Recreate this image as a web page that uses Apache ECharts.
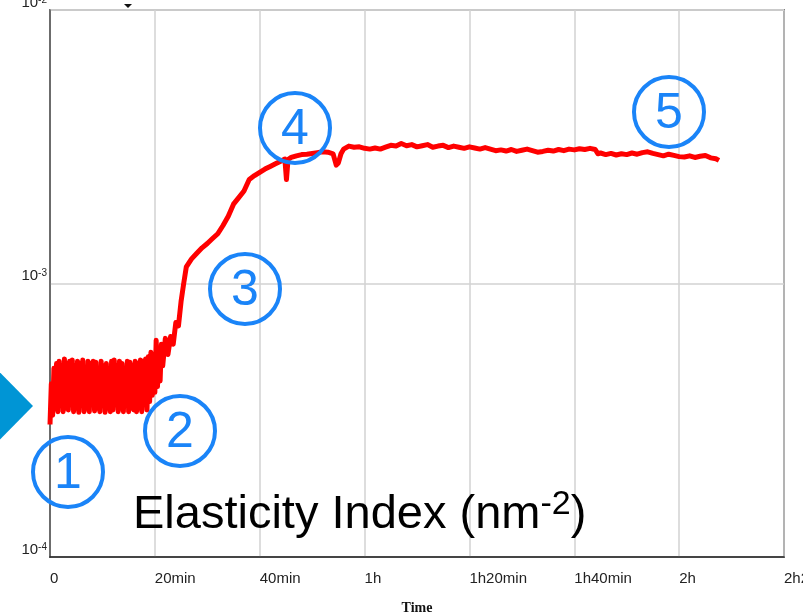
<!DOCTYPE html>
<html>
<head>
<meta charset="utf-8">
<script src="https://cdn.jsdelivr.net/npm/echarts@6/dist/echarts.min.js"></script>
<style>html,body{margin:0;padding:0;background:#fff}#c{width:803px;height:614px}</style>
</head>
<body>
<div id="c"></div>
<script>
// Time in minutes
const timeMin = [
  0,0.25,0.5,0.75,1,1.25,1.5,1.75,2,2.25,2.5,2.75,3,3.25,3.5,3.75,4,4.25,4.5,4.75,
  5,5.25,5.5,5.75,6,6.25,6.5,6.75,7,7.25,7.5,7.75,8,8.25,8.5,8.75,9,9.25,9.5,9.75,
  10,10.25,10.5,10.75,11,11.25,11.5,11.75,12,12.25,12.5,12.75,13,13.25,13.5,13.75,14,14.25,14.5,14.75,
  15,15.25,15.5,15.75,16,16.25,16.5,16.75,17,17.25,17.5,17.75,18,18.25,18.5,18.75,19,19.25,19.5,19.75,
  20,20.25,20.5,20.75,21,21.25,
  21.5,22,22.5,23,23.5,24,24.5,25,25.5,26,26.5,27,28,29,30,31,32,33,34,35,36,37,38,39,40,41,42,43,44,44.8,45.1,45.4,
  46,47,48,49,50,51,52,53,54,54.6,55,55.5,56,
  57,58,59,60,61,62,63,64,65,66,67,68,69,70,71,72,73,74,75,76,77,78,79,80,81,82,83,84,85,86,87,88,89,90,
  91,92,93,94,95,96,97,98,99,100,101,102,103,104,104.5,105,106,107,108,109,110,111,112,113,114,115,116,117,118,119,120,
  121,122,123,124,125,126,127,127.6
];
// Elasticity index, in units of 1e-4 nm^-2
const elasticityE4 = [
  3.05,4.3,3.3,4.9,3.5,5.1,3.4,5.2,3.6,5.0,3.4,5.3,3.5,5.1,3.45,5.2,3.6,5.25,3.4,5.0,
  3.5,5.2,3.38,5.1,3.7,5.25,3.4,4.9,3.5,5.2,3.4,5.1,3.9,5.2,3.42,5.15,3.5,4.7,3.4,5.2,
  3.6,5.0,3.38,5.1,3.5,4.8,3.4,5.2,3.45,5.25,3.6,5.0,3.4,5.2,3.5,5.1,3.4,4.9,3.6,5.2,
  3.4,5.15,3.5,5.0,3.45,5.2,3.4,5.1,3.5,5.25,3.4,5.2,3.6,5.3,3.45,5.4,3.7,5.6,3.9,5.5,
  4.0,6.2,4.2,5.8,4.4,6.0,
  5.0,6.3,5.5,6.4,6.0,7.2,7.0,8.6,10.0,11.5,11.9,12.3,12.9,13.5,14.0,14.6,15.2,16.3,17.6,19.5,20.6,21.8,24.0,24.8,25.5,26.2,26.8,27.4,28.0,28.5,24.0,28.4,
  28.9,29.3,29.6,29.7,29.9,30.1,30.3,30.2,29.8,27.1,27.6,29.8,31.0,
  31.8,31.5,31.6,31.2,31.0,31.3,31.0,31.5,32.0,31.8,32.5,31.9,32.2,31.6,31.9,32.2,31.5,31.8,32.0,31.4,31.8,31.5,31.2,31.6,31.3,31.0,31.4,31.0,30.6,30.8,30.5,30.9,30.4,30.7,
  31.0,30.6,30.2,30.4,30.7,30.5,30.9,30.6,31.0,30.8,31.1,30.9,31.2,30.9,29.8,30.0,29.6,29.9,29.5,29.8,29.6,30.0,29.7,30.1,30.3,29.9,29.6,29.3,29.7,29.4,29.1,
  29.0,29.3,28.9,29.2,29.4,28.8,28.6,28.2
];
const xTickLabels = ['0','20min','40min','1h','1h20min','1h40min','2h','2h20min'];
const phaseLabels = ['1','2','3','4','5'];

const seriesData = timeMin.map((t, i) => [t, elasticityE4[i] * 1e-4]);

const blue = '#1a84f8';
const circlePos = [[68,472],[180,431],[245,289],[295,128],[669,112]];
const graphics = [];
circlePos.forEach((p, i) => {
  graphics.push({type:'circle', shape:{cx:p[0], cy:p[1], r:35}, style:{fill:'none', stroke:blue, lineWidth:4}, z:100});
  graphics.push({type:'text', x:p[0], y:p[1]+2, style:{text:phaseLabels[i], fontSize:50, fontFamily:'Liberation Sans, Arial', fill:blue, align:'center', verticalAlign:'middle', textAlign:'center', textVerticalAlign:'middle'}, z:101});
});
graphics.push({type:'polygon', shape:{points:[[-40,332],[33,406],[-40,480]]}, style:{fill:'#0095d5'}, z:100});
graphics.push({type:'polygon', shape:{points:[[124,4],[132,4],[128,8]]}, style:{fill:'#111'}, z:100});
graphics.push({type:'text', x:133, y:515, style:{
  text:'Elasticity Index (nm{sup|-2}{p|)}',
  fontSize:47, fontFamily:'Liberation Sans, Arial', fill:'#000',
  align:'left', verticalAlign:'middle', textAlign:'left', textVerticalAlign:'middle',
  rich:{
    sup:{fontSize:34, fontFamily:'Liberation Sans, Arial', fill:'#000', verticalAlign:'top', lineHeight:34},
    p:{fontSize:47, fontFamily:'Liberation Sans, Arial', fill:'#000', lineHeight:54}
  }
}, z:100});

const chart = echarts.init(document.getElementById('c'), null, {renderer:'canvas'});
chart.setOption({
  animation:false,
  backgroundColor:'#fff',
  grid:{left:50, right:19, top:10, bottom:57, show:true, borderColor:'#222', borderWidth:1.5, containLabel:false, outerBoundsMode:'none'},
  xAxis:{
    type:'value', min:0, max:140, interval:20,
    name:'Time', nameLocation:'middle', nameGap:44,
    nameTextStyle:{fontFamily:'Liberation Serif, DejaVu Serif, serif', fontWeight:'bold', fontSize:14, color:'#111'},
    axisLine:{show:true, lineStyle:{color:'#222', width:1.5}},
    axisTick:{show:false},
    splitLine:{show:true, lineStyle:{color:'#d2d2d2', width:1.5}},
    axisLabel:{
      align:'left', margin:14, fontSize:15, fontFamily:'Liberation Sans, Arial', color:'#222',
      formatter:(v) => xTickLabels[Math.round(v/20)]
    }
  },
  yAxis:{
    type:'log', min:1e-4, max:1e-2, logBase:10,
    axisLine:{show:true, lineStyle:{color:'#555', width:1.5}},
    axisTick:{show:false},
    minorTick:{show:false},
    splitLine:{show:true, lineStyle:{color:'#d2d2d2', width:1.5}},
    axisLabel:{
      margin:3, verticalAlign:'bottom', fontSize:15, fontFamily:'Liberation Sans, Arial', color:'#222',
      formatter:(v) => '10{s|' + Math.round(Math.log10(v)) + '}',
      rich:{s:{fontSize:10, verticalAlign:'top', lineHeight:10, padding:[0,0,4,0]}}
    }
  },
  series:[{
    type:'line', data:seriesData, showSymbol:false, symbol:'none',
    lineStyle:{color:'#ff0000', width:5, join:'round'},
    itemStyle:{color:'#ff0000'}, z:10
  }],
  graphic:graphics
});
</script>
</body>
</html>
